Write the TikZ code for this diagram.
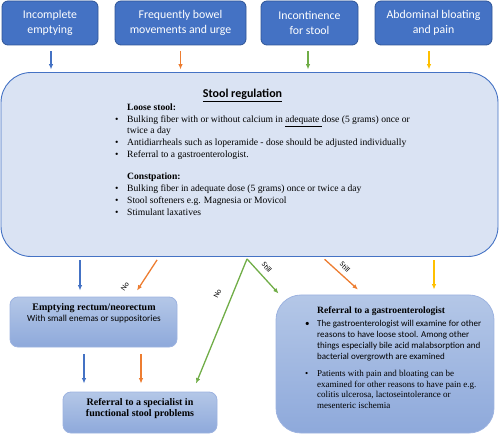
\documentclass[tikz,border=0pt]{standalone}
\usepackage{fontspec}
\setmainfont{Liberation Serif}
\setsansfont{Carlito}
\usetikzlibrary{arrows.meta}
\definecolor{cblue}{HTML}{4472C4}
\definecolor{cdark}{HTML}{2F5597}
\definecolor{corange}{HTML}{ED7D31}
\definecolor{cgreen}{HTML}{70AD47}
\definecolor{cyellow}{HTML}{FFC000}
\definecolor{cmain}{HTML}{DAE3F3}
\definecolor{clowtop}{HTML}{B4C7E7}
\definecolor{clowbot}{HTML}{8EA9DB}
\definecolor{cedge}{HTML}{9DB3E0}
\tikzset{
    topbox/.style={draw=cdark, line width=0.8pt, fill=cblue, rounded corners=6pt, text=white, align=center, inner sep=0pt, minimum height=44pt, font=\sffamily\fontsize{11.8}{15}\selectfont},
    lowbox/.style={draw=cedge, line width=0.8pt, top color=clowtop, bottom color=clowbot, rounded corners=8pt, inner sep=0pt},
    arr/.style={-{Latex[length=5.5pt,width=4.5pt]}, line width=1.3pt},
    lbl/.style={inner sep=0pt, font=\sffamily\fontsize{7.5}{8}\selectfont},
    bul/.style={inner sep=0pt, anchor=north west, align=left},
}
\newcommand{\bitem}{\makebox[12pt][l]{\textbullet}}
\newcommand{\bpad}{\hspace*{12pt}}
\begin{document}
\begin{tikzpicture}[x=1pt,y=-1pt]
            \useasboundingbox (0,0) rectangle (500,435);
            % complaints
            \node[topbox, minimum width=96pt] (incomplete) at (50,23) {Incomplete\\emptying};
            \node[topbox, minimum width=131pt] (frequent) at (180.5,23) {Frequently bowel\\movements and urge};
            \node[topbox, minimum width=97pt] (incontinence) at (309.5,23) {Incontinence\\for stool};
            \node[topbox, minimum width=117pt] (bloating) at (433.5,23) {Abdominal bloating\\and pain};
            % stool regulation
            \node[draw=cblue, line width=0.9pt, fill=cmain, rounded corners=30pt, minimum width=497pt, minimum height=184pt, inner sep=0pt] (regulation) at (249.5,164.5) {};
            \node[font=\sffamily\bfseries\fontsize{12}{14}\selectfont] (regtitle) at (242.5,95.5) {\underline{Stool regulation}};
            \node[bul, font=\fontsize{9.6}{12}\selectfont] (reglist) at (115,104) {\bpad\textbf{Loose stool:}\\
                \bitem Bulking fiber with or without calcium in \underline{adequate\ }dose (5 grams) once or\\[-1.4pt]
                \bpad twice a day\\
                \bitem Antidiarrheals such as loperamide - dose should be adjusted individually\\
                \bitem Referral to a gastroenterologist.\\[10pt]
                \bpad\textbf{Constpation:}\\
                \bitem Bulking fiber in adequate dose (5 grams) once or twice a day\\
                \bitem Stool softeners e.g. Magnesia or Movicol\\
                \bitem Stimulant laxatives};
            % next steps
            \node[lowbox, minimum width=167pt, minimum height=50pt] (emptying) at (93.5,322) {};
            \node[inner sep=0pt, font=\bfseries\fontsize{10}{12}\selectfont] (emptytitle) at (94,308.5) {Emptying rectum/neorectum};
            \node[inner sep=0pt, font=\sffamily\fontsize{9.2}{11}\selectfont] (emptysub) at (94,319.5) {With small enemas or suppositories};
            \node[lowbox, minimum width=154pt, minimum height=41pt] (specialist) at (140,412.5) {};
            \node[inner sep=0pt, align=center, font=\bfseries\fontsize{10}{11.5}\selectfont] (spectext) at (140,408.5) {Referral to a specialist in\\functional stool problems};
            \node[lowbox, rounded corners=25pt, minimum width=218pt, minimum height=138pt] (gastro) at (385,364) {};
            \node[bul, font=\bfseries\fontsize{9.6}{11}\selectfont] (gastrotitle) at (305,307) {\bpad Referral to a gastroenterologist};
            \node[bul, font=\sffamily\fontsize{9}{11}\selectfont] (gastroone) at (305,320) {\bitem The gastroenterologist will examine for other\\
                \bpad reasons to have loose stool. Among other\\
                \bpad things especially bile acid malabsorption and\\
                \bpad bacterial overgrowth are examined};
            \node[bul, font=\fontsize{9}{10.7}\selectfont] (gastrotwo) at (305,370) {\bitem Patients with pain and bloating can be\\
                \bpad examined for other reasons to have pain e.g.\\
                \bpad colitis ulcerosa, lactoseintolerance or\\
                \bpad mesenteric ischemia};
            % arrows into stool regulation
            \draw[arr, cblue, shorten <=6pt, shorten >=2.5pt] ([xshift=1pt]incomplete.south) -- ([xshift=1pt]incomplete.south |- regulation.north);
            \draw[arr, corange, shorten <=6pt, shorten >=2.5pt] (frequent.south) -- (frequent.south |- regulation.north);
            \draw[arr, cgreen, shorten <=6pt, shorten >=2.5pt] ([xshift=-1.5pt]incontinence.south) -- ([xshift=-1.5pt]incontinence.south |- regulation.north);
            \draw[arr, cyellow, shorten <=6pt, shorten >=2.5pt] ([xshift=-4.5pt]bloating.south) -- ([xshift=-4.5pt]bloating.south |- regulation.north);
            % arrows out of stool regulation
            \draw[arr, cblue, shorten <=3.5pt, shorten >=6pt] ([xshift=-13.5pt]emptying.north |- regulation.south) -- ([xshift=-13.5pt]emptying.north);
            \draw[arr, corange, shorten <=3.5pt] ([xshift=65.5pt]emptying.north |- regulation.south) -- ([xshift=43.5pt,yshift=6pt]emptying.north);
            \node[lbl, rotate=55] (nofirst) at (125,286.5) {No};
            \coordinate (split) at ([xshift=-2.5pt,yshift=-2pt]regulation.south);
            \draw[arr, cgreen] (split) -- ([xshift=56pt,yshift=8pt]specialist.north);
            \draw[arr, cgreen] (split) -- ([xshift=3pt,yshift=1pt]gastro.north west);
            \node[lbl, rotate=64] (nosecond) at (217.5,294) {No};
            \node[lbl, rotate=-50] (stillfirst) at (267,267) {Still};
            \draw[arr, corange, shorten <=3.5pt] ([xshift=-63pt]gastro.north |- regulation.south) -- ([xshift=-27pt,yshift=5pt]gastro.north);
            \node[lbl, rotate=-45] (stillsecond) at (345,267) {Still};
            \draw[arr, cyellow, shorten <=3.5pt, shorten >=5pt] ([xshift=49pt]gastro.north |- regulation.south) -- ([xshift=49pt]gastro.north);
            % arrows to the specialist
            \draw[arr, cblue, shorten <=7pt, shorten >=8pt] ([xshift=-56pt]specialist.north |- emptying.south) -- ([xshift=-56pt]specialist.north);
            \draw[arr, corange, shorten <=7pt, shorten >=8pt] ([xshift=1pt]specialist.north |- emptying.south) -- ([xshift=1pt]specialist.north);
\end{tikzpicture}
\end{document}
